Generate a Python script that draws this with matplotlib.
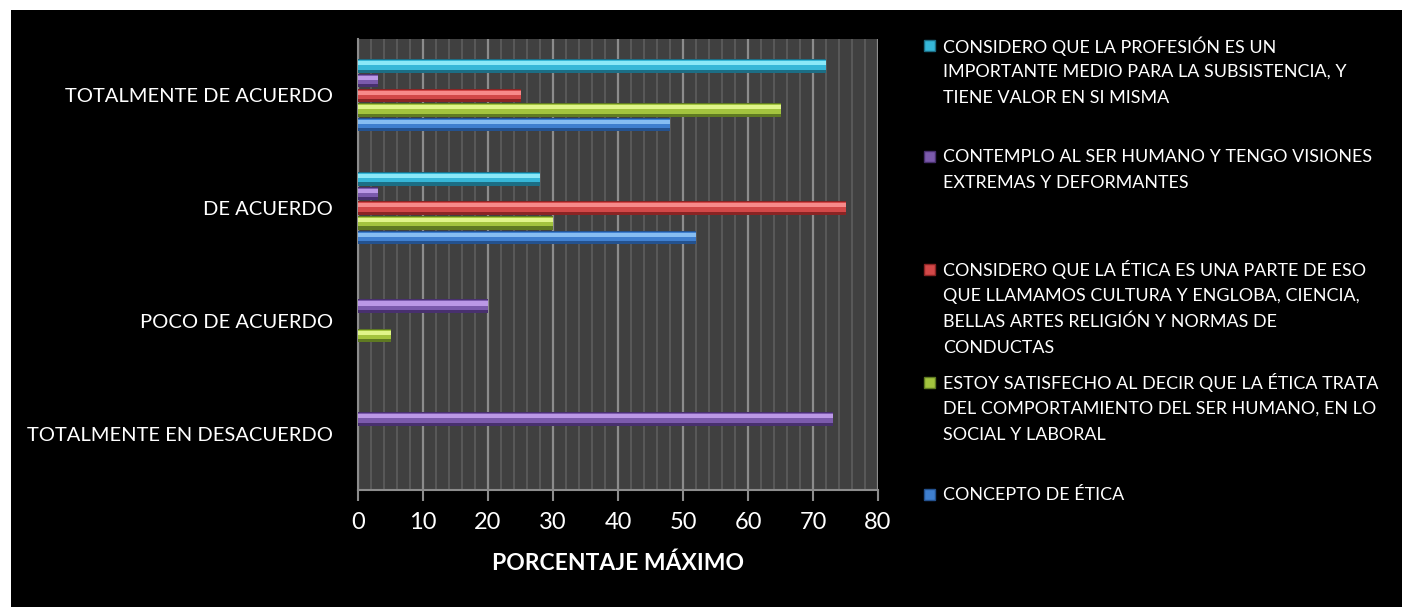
import matplotlib.pyplot as plt
import numpy as np
from matplotlib.patches import Rectangle

plt.rcParams['font.family'] = ['Lato', 'DejaVu Sans']

# categories, bottom to top
categories = ['TOTALMENTE EN DESACUERDO', 'POCO DE ACUERDO', 'DE ACUERDO', 'TOTALMENTE DE ACUERDO']

# series (bottom bar to top bar in each group)
series_names = [
    'CONCEPTO DE ÉTICA',
    'ESTOY SATISFECHO AL DECIR QUE LA ÉTICA TRATA\nDEL COMPORTAMIENTO DEL SER HUMANO, EN LO\nSOCIAL Y LABORAL',
    'CONSIDERO QUE LA ÉTICA ES UNA PARTE DE ESO\nQUE LLAMAMOS CULTURA Y ENGLOBA, CIENCIA,\nBELLAS ARTES RELIGIÓN Y NORMAS DE\nCONDUCTAS',
    'CONTEMPLO AL SER HUMANO Y TENGO VISIONES\nEXTREMAS Y DEFORMANTES',
    'CONSIDERO QUE LA PROFESIÓN ES UN\nIMPORTANTE MEDIO PARA LA SUBSISTENCIA, Y\nTIENE VALOR EN SI MISMA',
]
concepto = [0, 0, 52, 48]
satisfecho = [0, 5, 30, 65]
cultura = [0, 0, 75, 25]
contemplo = [73, 20, 3, 3]
profesion = [0, 0, 28, 72]
values = [concepto, satisfecho, cultura, contemplo, profesion]

# (dark, mid, light) per series
colors = [
    ('#24528f', '#3f7fcf', '#86bdf2'),
    ('#5f7a22', '#a3c43e', '#e0f58a'),
    ('#8a2424', '#d24848', '#f78a8a'),
    ('#48306e', '#7b5aac', '#bb98e6'),
    ('#1c6e85', '#36b7d8', '#8ae8f8'),
]

fig = plt.figure(figsize=(14.02, 6.07), dpi=100)
fig.patch.set_facecolor('white')
# black chart area with white margin at top and left
fig.patches.append(Rectangle((11 / 1402, -0.05), 1.1, 1.05 - 10 / 607, transform=fig.transFigure,
                             facecolor='black', edgecolor='none', zorder=-5))

ax = fig.add_axes([358 / 1402, 1 - 490 / 607, 520 / 1402, 451 / 607])
ax.set_facecolor('#404040')

y = np.arange(len(categories))
step = 0.13
h = 0.12
for i, vals in enumerate(values):
    off = (i - 2) * step
    dark, mid, light = colors[i]
    ax.barh(y + off, vals, height=h, color=dark, zorder=3)
    ax.barh(y + off + h * 0.08, vals, height=h * 0.7, color=mid, zorder=4)
    ax.barh(y + off + h * 0.2, vals, height=h * 0.3, color=light, zorder=5)

ax.set_xlim(0, 80)
ax.set_ylim(-0.5, len(categories) - 0.5)
ax.set_xticks(np.arange(0, 81, 10))
ax.set_xticks(np.arange(0, 81, 2), minor=True)
ax.grid(axis='x', which='minor', color='#5e5e5e', lw=1.2, zorder=1)
ax.grid(axis='x', which='major', color='#8c8c8c', lw=1.6, zorder=2)
ax.set_yticks(y)
ax.set_yticklabels(categories, fontsize=14.5, color='white')
ax.tick_params(axis='y', length=0, pad=18)
ax.tick_params(axis='x', which='major', colors='#8c8c8c', length=8, width=1.5, labelcolor='white',
               labelsize=17, pad=8)
ax.tick_params(axis='x', which='minor', length=0)
for s in ['top', 'right']:
    ax.spines[s].set_visible(False)
ax.spines['left'].set_color('#8c8c8c')
ax.spines['left'].set_linewidth(1.5)
ax.spines['bottom'].set_color('#8c8c8c')
ax.spines['bottom'].set_linewidth(1.5)
ax.set_xlabel('PORCENTAJE MÁXIMO', fontsize=16.5, fontweight='bold', color='white', labelpad=14)

# legend, top series first, evenly spaced slots
slot_top = [46, 157, 270, 383, 495]
line_gap = 26
for k, idx in enumerate([4, 3, 2, 1, 0]):
    dark, mid, light = colors[idx]
    y0 = slot_top[k]
    fig.patches.append(Rectangle((924 / 1402, 1 - (y0 + 5) / 607), 11 / 1402, 11 / 607,
                                 transform=fig.transFigure, facecolor=mid, edgecolor=dark, lw=1))
    for j, line in enumerate(series_names[idx].split('\n')):
        fig.text(943 / 1402, 1 - (y0 + j * line_gap) / 607, line, fontsize=12.9, color='white',
                 ha='left', va='center')

plt.savefig('out.png', dpi=100, facecolor=fig.get_facecolor())
